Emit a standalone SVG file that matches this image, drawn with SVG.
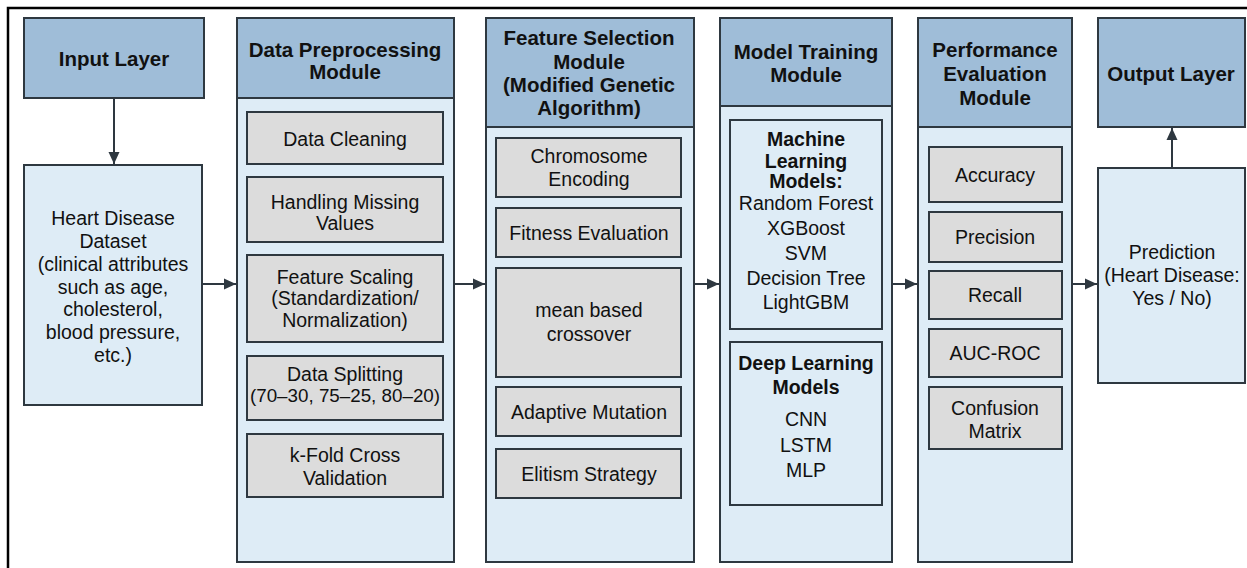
<svg xmlns="http://www.w3.org/2000/svg" width="1247" height="568" viewBox="0 0 1247 568">
  <style>
    .frame { fill: none; stroke: #000; stroke-width: 2.5; }
    .head { fill: #9fbdd8; stroke: #2e3840; stroke-width: 2; }
    .body { fill: #deecf6; stroke: #2e3840; stroke-width: 2; }
    .step { fill: #dcdcdc; stroke: #2e3840; stroke-width: 2; }
    .group { fill: #deecf6; stroke: #2e3840; stroke-width: 2; }
    text { font-family: "Liberation Sans", Arial, sans-serif; fill: #111; text-anchor: middle; }
    .h { font-size: 20.5px; font-weight: bold; }
    .t { font-size: 19.5px; }
    .b { font-size: 19.5px; font-weight: bold; }
    .link { stroke: #2e3840; stroke-width: 2; fill: none; marker-end: url(#arrow); }
  </style>
  <defs>
    <marker id="arrow" viewBox="0 0 12 12" refX="12" refY="6" markerWidth="12" markerHeight="12" markerUnits="userSpaceOnUse" orient="auto">
      <path d="M0,0.5 L12,6 L0,11.5 Z" fill="#2e3840"/>
    </marker>
  </defs>

  <rect width="1247" height="568" fill="#fff"/>
  <rect class="frame" x="8" y="8" width="1260" height="580"/>

  <!-- Input layer -->
  <g id="input-layer">
    <rect class="head" x="24" y="18" width="180" height="80"/>
    <text class="h" x="114" y="66">Input Layer</text>
  </g>
  <g id="dataset">
    <rect class="body" x="24" y="165" width="178" height="240"/>
    <text class="t" x="113" y="225">Heart Disease</text>
    <text class="t" x="113" y="248">Dataset</text>
    <text class="t" x="113" y="271">(clinical attributes</text>
    <text class="t" x="113" y="294">such as age,</text>
    <text class="t" x="113" y="316">cholesterol,</text>
    <text class="t" x="113" y="339">blood pressure,</text>
    <text class="t" x="113" y="362">etc.)</text>
  </g>

  <!-- Data preprocessing -->
  <g id="preprocessing">
    <rect class="body" x="237" y="18" width="217" height="544"/>
    <rect class="head" x="237" y="18" width="217" height="80"/>
    <text class="h" x="345" y="57">Data Preprocessing</text>
    <text class="h" x="345" y="79">Module</text>
    <rect class="step" x="247" y="112" width="196" height="52"/>
    <text class="t" x="345" y="146">Data Cleaning</text>
    <rect class="step" x="247" y="177" width="196" height="65"/>
    <text class="t" x="345" y="209">Handling Missing</text>
    <text class="t" x="345" y="230">Values</text>
    <rect class="step" x="247" y="255" width="196" height="87"/>
    <text class="t" x="345" y="284">Feature Scaling</text>
    <text class="t" x="345" y="305">(Standardization/</text>
    <text class="t" x="345" y="327">Normalization)</text>
    <rect class="step" x="247" y="356" width="196" height="64"/>
    <text class="t" x="345" y="381">Data Splitting</text>
    <text class="t" x="345" y="402" style="font-size:18.8px">(70–30, 75–25, 80–20)</text>
    <rect class="step" x="247" y="434" width="196" height="63"/>
    <text class="t" x="345" y="462">k-Fold Cross</text>
    <text class="t" x="345" y="485">Validation</text>
  </g>

  <!-- Feature selection -->
  <g id="feature-selection">
    <rect class="body" x="486" y="18" width="208" height="544"/>
    <rect class="head" x="486" y="18" width="208" height="109"/>
    <text class="h" x="589" y="45">Feature Selection</text>
    <text class="h" x="589" y="69">Module</text>
    <text class="h" x="589" y="92">(Modified Genetic</text>
    <text class="h" x="589" y="115">Algorithm)</text>
    <rect class="step" x="496" y="138" width="185" height="59"/>
    <text class="t" x="589" y="163">Chromosome</text>
    <text class="t" x="589" y="186">Encoding</text>
    <rect class="step" x="496" y="208" width="185" height="49"/>
    <text class="t" x="589" y="240">Fitness Evaluation</text>
    <rect class="step" x="496" y="268" width="185" height="109"/>
    <text class="t" x="589" y="317">mean based</text>
    <text class="t" x="589" y="341">crossover</text>
    <rect class="step" x="496" y="387" width="185" height="49"/>
    <text class="t" x="589" y="419">Adaptive Mutation</text>
    <rect class="step" x="496" y="449" width="185" height="49"/>
    <text class="t" x="589" y="481">Elitism Strategy</text>
  </g>

  <!-- Model training -->
  <g id="model-training">
    <rect class="body" x="720" y="18" width="172" height="544"/>
    <rect class="head" x="720" y="18" width="172" height="88"/>
    <text class="h" x="806" y="59">Model Training</text>
    <text class="h" x="806" y="82">Module</text>
    <rect class="group" x="730" y="120" width="152" height="209"/>
    <text class="b" x="806" y="146">Machine</text>
    <text class="b" x="806" y="168">Learning</text>
    <text class="b" x="806" y="188">Models:</text>
    <text class="t" x="806" y="210">Random Forest</text>
    <text class="t" x="806" y="235">XGBoost</text>
    <text class="t" x="806" y="260">SVM</text>
    <text class="t" x="806" y="285">Decision Tree</text>
    <text class="t" x="806" y="309">LightGBM</text>
    <rect class="group" x="730" y="342" width="152" height="163"/>
    <text class="b" x="806" y="370">Deep Learning</text>
    <text class="b" x="806" y="394">Models</text>
    <text class="t" x="806" y="426">CNN</text>
    <text class="t" x="806" y="452">LSTM</text>
    <text class="t" x="806" y="477">MLP</text>
  </g>

  <!-- Performance evaluation -->
  <g id="performance">
    <rect class="body" x="918" y="18" width="154" height="544"/>
    <rect class="head" x="918" y="18" width="154" height="109"/>
    <text class="h" x="995" y="57">Performance</text>
    <text class="h" x="995" y="81">Evaluation</text>
    <text class="h" x="995" y="105">Module</text>
    <rect class="step" x="929" y="147" width="133" height="55"/>
    <text class="t" x="995" y="182">Accuracy</text>
    <rect class="step" x="929" y="212" width="133" height="50"/>
    <text class="t" x="995" y="244">Precision</text>
    <rect class="step" x="929" y="271" width="133" height="48"/>
    <text class="t" x="995" y="302">Recall</text>
    <rect class="step" x="929" y="329" width="133" height="48"/>
    <text class="t" x="995" y="360">AUC-ROC</text>
    <rect class="step" x="929" y="387" width="133" height="62"/>
    <text class="t" x="995" y="415">Confusion</text>
    <text class="t" x="995" y="438">Matrix</text>
  </g>

  <!-- Output layer -->
  <g id="output-layer">
    <rect class="head" x="1098" y="18" width="147" height="109"/>
    <text class="h" x="1171" y="81">Output Layer</text>
  </g>
  <g id="prediction">
    <rect class="body" x="1098" y="168" width="147" height="215"/>
    <text class="t" x="1172" y="259">Prediction</text>
    <text class="t" x="1172" y="282">(Heart Disease:</text>
    <text class="t" x="1172" y="305">Yes / No)</text>
  </g>

  <!-- Connectors -->
  <g id="connectors">
    <line class="link" x1="114" y1="98" x2="114" y2="164"/>
    <line class="link" x1="202" y1="284" x2="236" y2="284"/>
    <line class="link" x1="454" y1="284" x2="485" y2="284"/>
    <line class="link" x1="694" y1="284" x2="719" y2="284"/>
    <line class="link" x1="892" y1="284" x2="917" y2="284"/>
    <line class="link" x1="1072" y1="284" x2="1097" y2="284"/>
    <line class="link" x1="1172" y1="168" x2="1172" y2="128"/>
  </g>
</svg>
